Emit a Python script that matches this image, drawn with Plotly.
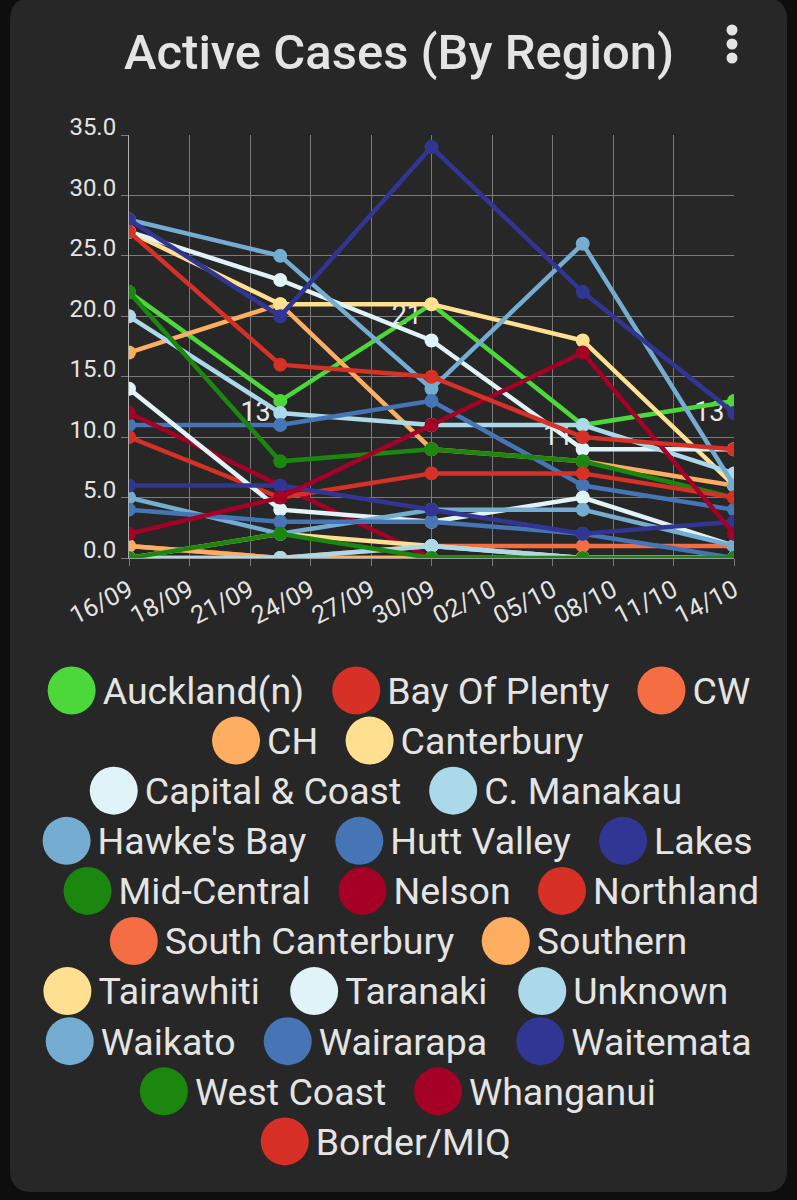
import plotly.graph_objects as go
import pandas as pd

# ---------------- data ----------------
DATES = ['2021-09-16', '2021-09-23', '2021-09-30', '2021-10-07', '2021-10-14']
TICK_LABELS = ['16/09', '18/09', '21/09', '24/09', '27/09', '30/09',
               '02/10', '05/10', '08/10', '11/10', '14/10']
Y_TICKS = [0, 5, 10, 15, 20, 25, 30, 35]

AUCKLAND_N = [22, 13, 21, 11, 13]
BAY_OF_PLENTY = [0, 0, 0, 0, 0]
CW = [1, 0, 0, 0, 0]
CH = [17, 21, 9, 8, 6]
CANTERBURY = [27, 21, 21, 18, 6]
CAPITAL_COAST = [27, 23, 18, 9, 9]
C_MANAKAU = [20, 12, 11, 11, 7]
HAWKES_BAY = [28, 25, 14, 26, 6]
HUTT_VALLEY = [11, 11, 13, 6, 4]
LAKES = [28, 20, 34, 22, 12]
MID_CENTRAL = [22, 8, 9, 8, 5]
NELSON = [12, 6, 0, 0, 0]
NORTHLAND = [10, 5, 7, 7, 5]
SOUTH_CANTERBURY = [0, 0, 1, 1, 1]
SOUTHERN = [1, 0, 0, 0, 0]
TAIRAWHITI = [0, 2, 1, 0, 0]
TARANAKI = [14, 4, 3, 5, 1]
UNKNOWN = [0, 0, 1, 0, 0]
WAIKATO = [5, 2, 4, 4, 1]
WAIRARAPA = [4, 3, 3, 2, 0]
WAITEMATA = [6, 6, 4, 2, 3]
WEST_COAST = [0, 2, 0, 0, 0]
WHANGANUI = [2, 5, 11, 17, 2]
BORDER_MIQ = [27, 16, 15, 10, 9]

REGIONS = ['Auckland(n)', 'Bay Of Plenty', 'CW', 'CH', 'Canterbury',
           'Capital & Coast', 'C. Manakau', "Hawke's Bay", 'Hutt Valley', 'Lakes',
           'Mid-Central', 'Nelson', 'Northland', 'South Canterbury', 'Southern',
           'Tairawhiti', 'Taranaki', 'Unknown', 'Waikato', 'Wairarapa',
           'Waitemata', 'West Coast', 'Whanganui', 'Border/MIQ']
SERIES = [AUCKLAND_N, BAY_OF_PLENTY, CW, CH, CANTERBURY, CAPITAL_COAST,
          C_MANAKAU, HAWKES_BAY, HUTT_VALLEY, LAKES, MID_CENTRAL, NELSON,
          NORTHLAND, SOUTH_CANTERBURY, SOUTHERN, TAIRAWHITI, TARANAKI, UNKNOWN,
          WAIKATO, WAIRARAPA, WAITEMATA, WEST_COAST, WHANGANUI, BORDER_MIQ]
COLORS = ['#4CD83A', '#D73027', '#F46D43', '#FDAE61', '#FEE090', '#E0F3F8',
          '#ABD9E9', '#74ADD1', '#4575B4', '#313695', '#1B870E', '#A50026',
          '#D73027', '#F46D43', '#FDAE61', '#FEE090', '#E0F3F8', '#ABD9E9',
          '#74ADD1', '#4575B4', '#313695', '#1B870E', '#A50026', '#D73027']
LABELLED_SERIES = 'Auckland(n)'
LEGEND_ROWS = [['Auckland(n)', 'Bay Of Plenty', 'CW'],
               ['CH', 'Canterbury'],
               ['Capital & Coast', 'C. Manakau'],
               ["Hawke's Bay", 'Hutt Valley', 'Lakes'],
               ['Mid-Central', 'Nelson', 'Northland'],
               ['South Canterbury', 'Southern'],
               ['Tairawhiti', 'Taranaki', 'Unknown'],
               ['Waikato', 'Wairarapa', 'Waitemata'],
               ['West Coast', 'Whanganui'],
               ['Border/MIQ']]
LEGEND_ROW_SHIFT = [0, -1, -13, -1, 12, 0, -13, 0, -1, -13]

# ---------------- style / layout ----------------
W, H = 797, 1200
FONT = 'Roboto'
TXT = '#E4E4E4'
PLOT_L, PLOT_R, PLOT_T, PLOT_B = 129, 734, 135, 558
LEG_FS = 37.5
LEG_TOP, LEG_PITCH = 690.5, 50.1
CENTER_X = 398.5

ROBOTO_EM = {' ': .248, 'A': .652, 'B': .623, 'C': .651, 'D': .656, 'H': .697,
             'I': .273, 'L': .526, 'M': .852, 'N': .697, 'O': .688, 'P': .631,
             'Q': .688, 'S': .594, 'T': .597, 'U': .646, 'V': .636, 'W': .866,
             'a': .544, 'b': .560, 'c': .523, 'd': .563, 'e': .529, 'f': .346,
             'g': .561, 'h': .551, 'i': .243, 'k': .507, 'l': .243, 'm': .876,
             'n': .552, 'o': .570, 'p': .560, 'r': .338, 's': .516, 't': .327,
             'u': .551, 'v': .494, 'w': .737, 'y': .474, '(': .341, ')': .347,
             '&': .622, '.': .263, "'": .174, '-': .276, '/': .412}


def text_width(s, fs):
    return sum(ROBOTO_EM.get(ch, .55) for ch in s) * fs


fig = go.Figure()

color_of = dict(zip(REGIONS, COLORS))
x_dates = pd.to_datetime(DATES)

# value labels of the first series (drawn first, under the lines);
# the first point's label falls outside the plot area and is not shown
lab_vals = SERIES[REGIONS.index(LABELLED_SERIES)]
fig.add_trace(go.Scatter(
    x=x_dates[1:], y=lab_vals[1:], mode='text',
    text=[f'{v}\u00a0\u200a' for v in lab_vals[1:]],
    textposition='bottom left',
    textfont=dict(family=FONT, size=27, color='#E8E8E8'),
    hoverinfo='skip', showlegend=False))

for name, vals, col in zip(REGIONS, SERIES, COLORS):
    fig.add_trace(go.Scatter(
        x=x_dates, y=vals, mode='lines+markers', name=name,
        line=dict(color=col, width=4.5),
        marker=dict(color=col, size=14),
        showlegend=False))

# custom legend (big round swatches), rows centred
leg_x, leg_y, leg_c, txt_x, txt_y, txt_s = [], [], [], [], [], []
for r, (row, shift) in enumerate(zip(LEGEND_ROWS, LEGEND_ROW_SHIFT)):
    widths = [text_width(n, LEG_FS) for n in row]
    total = sum(55 + w for w in widths) + 28 * (len(row) - 1)
    start = CENTER_X - total / 2 + shift
    yc = LEG_TOP + r * LEG_PITCH
    for n, w in zip(row, widths):
        leg_x.append(start + 24)
        leg_y.append(yc)
        leg_c.append(color_of[n])
        txt_x.append(start + 55)
        txt_y.append(yc + 4)
        txt_s.append(n)
        start += 55 + w + 28

fig.add_trace(go.Scatter(
    x=leg_x, y=leg_y, mode='markers', xaxis='x2', yaxis='y2',
    marker=dict(size=48, color=leg_c), cliponaxis=False,
    hoverinfo='skip', showlegend=False))
fig.add_trace(go.Scatter(
    x=txt_x, y=txt_y, mode='text', text=txt_s, xaxis='x2', yaxis='y2',
    textposition='middle right', cliponaxis=False,
    textfont=dict(family=FONT, size=LEG_FS, color=TXT),
    hoverinfo='skip', showlegend=False))

tickvals = pd.date_range(x_dates[0], x_dates[-1], periods=len(TICK_LABELS))


def px(x):
    return x / W


def py(y):
    return 1 - y / H


# card background with rounded corners
cx0, cx1, cy0, cy1, rad = 10, 787, -2, 1192, 22
card = (f'M {px(cx0 + rad)},{py(cy0)} L {px(cx1 - rad)},{py(cy0)} '
        f'Q {px(cx1)},{py(cy0)} {px(cx1)},{py(cy0 + rad)} '
        f'L {px(cx1)},{py(cy1 - rad)} Q {px(cx1)},{py(cy1)} {px(cx1 - rad)},{py(cy1)} '
        f'L {px(cx0 + rad)},{py(cy1)} Q {px(cx0)},{py(cy1)} {px(cx0)},{py(cy1 - rad)} '
        f'L {px(cx0)},{py(cy0 + rad)} Q {px(cx0)},{py(cy0)} {px(cx0 + rad)},{py(cy0)} Z')
shapes = [dict(type='path', path=card, xref='paper', yref='paper',
               fillcolor='#272727', line=dict(width=0), layer='below')]
for yy in (30, 44, 58):
    shapes.append(dict(type='circle', xref='paper', yref='paper',
                       x0=px(732 - 5.5), x1=px(732 + 5.5),
                       y0=py(yy + 5.5), y1=py(yy - 5.5),
                       fillcolor='#E4E4E4', line=dict(width=0)))

fig.update_layout(
    width=W, height=H,
    margin=dict(l=0, r=0, t=0, b=0, pad=0),
    paper_bgcolor='#0E0E0E', plot_bgcolor='rgba(0,0,0,0)',
    font=dict(family=FONT, color=TXT),
    showlegend=False,
    shapes=shapes,
    annotations=[dict(text='Active Cases (By Region)', x=0.5, y=py(52),
                      xref='paper', yref='paper', xanchor='center', yanchor='middle',
                      showarrow=False,
                      font=dict(family=FONT, size=49, color=TXT, weight=500))],
    xaxis=dict(domain=[px(PLOT_L), px(PLOT_R)], type='date',
               range=[x_dates[0], x_dates[-1]], automargin=False,
               tickvals=tickvals, ticktext=TICK_LABELS, tickangle=-27,
               tickfont=dict(family=FONT, size=25, color=TXT),
               showgrid=True, gridcolor='#7A7A7A', gridwidth=1,
               showline=True, linecolor='#9A9A9A', linewidth=1,
               ticks='outside', ticklen=7, tickcolor='#7A7A7A',
               zeroline=False, fixedrange=True),
    yaxis=dict(domain=[py(PLOT_B), py(PLOT_T)], range=[0, 35], automargin=False,
               tickvals=Y_TICKS, tickformat='.1f',
               tickfont=dict(family=FONT, size=24, color=TXT),
               showgrid=True, gridcolor='#7A7A7A', gridwidth=1,
               showline=True, linecolor='#B0B0B0', linewidth=1,
               ticks='outside', ticklen=7, tickcolor='#7A7A7A',
               ticklabelshift=-8,
               zeroline=False, fixedrange=True),
    xaxis2=dict(domain=[0, 1], range=[0, W], visible=False, fixedrange=True,
                automargin=False),
    yaxis2=dict(domain=[0, 0.5], range=[H, H / 2], visible=False, fixedrange=True,
                automargin=False),
)

fig.write_html('out.html')
